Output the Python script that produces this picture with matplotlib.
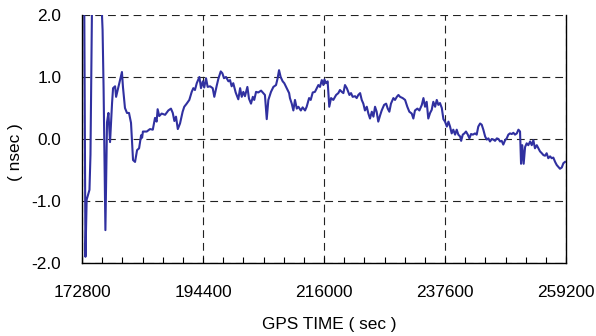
import numpy as np
import matplotlib
matplotlib.use("Agg")
import matplotlib.pyplot as plt
from matplotlib.ticker import MultipleLocator

plt.rcParams['font.family'] = ['Liberation Sans', 'DejaVu Sans']

# time since start of day (hours, day starts at GPS sec 172800) and clock offset (nsec)
t_start = 172800
hours = [
    0.10, 0.17, 0.23, 0.37, 0.42, 0.50, 0.74, 1.02, 1.07, 1.16,
    1.24, 1.31, 1.39, 1.49, 1.54, 1.64, 1.69, 1.79, 1.88, 1.98,
    2.03, 2.13, 2.23, 2.33, 2.43, 2.53, 2.63, 2.73, 2.83, 2.93,
    2.98, 3.02, 3.21, 3.37, 3.51, 3.62, 3.70, 3.75, 3.83, 3.95,
    4.12, 4.28, 4.41, 4.50, 4.58, 4.66, 4.75, 4.86, 4.99, 5.07,
    5.19, 5.32, 5.44, 5.52, 5.60, 5.69, 5.82, 5.90, 5.99, 6.06,
    6.15, 6.23, 6.35, 6.48, 6.56, 6.68, 6.76, 6.88, 6.96, 7.04,
    7.14, 7.26, 7.34, 7.42, 7.50, 7.62, 7.75, 7.84, 7.92, 8.00,
    8.08, 8.20, 8.28, 8.38, 8.47, 8.54, 8.63, 8.74, 8.88, 8.99,
    9.07, 9.16, 9.24, 9.37, 9.49, 9.62, 9.70, 9.77, 9.85, 9.95,
    10.03, 10.15, 10.27, 10.31, 10.40, 10.48, 10.56, 10.65, 10.73, 10.85,
    10.94, 11.06, 11.14, 11.26, 11.34, 11.44, 11.55, 11.64, 11.72, 11.80,
    11.89, 11.97, 12.02, 12.10, 12.18, 12.26, 12.35, 12.46, 12.60, 12.71,
    12.79, 12.88, 12.96, 13.04, 13.13, 13.26, 13.34, 13.42, 13.54, 13.62,
    13.70, 13.79, 13.87, 13.95, 14.03, 14.12, 14.20, 14.28, 14.37, 14.45,
    14.53, 14.61, 14.69, 14.78, 14.86, 14.98, 15.08, 15.16, 15.24, 15.32,
    15.44, 15.52, 15.61, 15.69, 15.77, 15.90, 16.02, 16.13, 16.23, 16.35,
    16.43, 16.51, 16.63, 16.73, 16.85, 16.93, 17.01, 17.09, 17.17, 17.26,
    17.34, 17.42, 17.51, 17.59, 17.67, 17.75, 17.84, 17.92, 18.00, 18.09,
    18.17, 18.25, 18.33, 18.41, 18.50, 18.58, 18.66, 18.75, 18.80, 18.88,
    18.96, 19.04, 19.13, 19.21, 19.29, 19.38, 19.49, 19.57, 19.65, 19.74,
    19.82, 19.90, 19.99, 20.07, 20.15, 20.23, 20.32, 20.40, 20.48, 20.57,
    20.65, 20.73, 20.81, 20.89, 20.98, 21.06, 21.14, 21.22, 21.31, 21.39,
    21.47, 21.56, 21.64, 21.72, 21.77, 21.83, 21.90, 21.97, 22.05, 22.13,
    22.22, 22.30, 22.38, 22.46, 22.55, 22.63, 22.71, 22.80, 22.88, 22.96,
    23.04, 23.12, 23.21, 23.29, 23.37, 23.46, 23.54, 23.62, 23.70, 23.79,
    23.87, 23.95,
]
offset_ns = [
    3.00, -1.90, -0.98, -0.82, -0.25, 2.30, 4.00, 1.76, 0.82, -1.47,
    0.27, 0.42, -0.05, 0.58, 0.82, 0.85, 0.68, 0.82, 0.95, 1.08,
    0.84, 0.50, 0.42, 0.42, 0.26, -0.34, -0.37, -0.18, -0.15, 0.06,
    0.02, 0.12, 0.12, 0.16, 0.15, 0.34, 0.28, 0.48, 0.37, 0.41,
    0.39, 0.46, 0.49, 0.42, 0.29, 0.36, 0.16, 0.25, 0.44, 0.52,
    0.57, 0.63, 0.76, 0.82, 0.79, 0.90, 1.00, 0.82, 0.93, 0.83,
    0.98, 0.84, 0.85, 0.82, 0.68, 0.86, 0.97, 1.09, 1.06, 0.98,
    1.00, 0.93, 0.95, 0.85, 0.90, 0.75, 0.64, 0.82, 0.68, 0.76,
    0.69, 0.84, 0.65, 0.57, 0.68, 0.63, 0.76, 0.75, 0.78, 0.74,
    0.71, 0.32, 0.63, 0.76, 0.84, 0.87, 0.98, 1.11, 1.00, 0.93,
    0.90, 0.82, 0.74, 0.66, 0.57, 0.46, 0.63, 0.49, 0.52, 0.46,
    0.51, 0.46, 0.52, 0.66, 0.63, 0.75, 0.76, 0.82, 0.87, 0.84,
    0.95, 0.87, 0.96, 0.90, 0.93, 0.52, 0.66, 0.63, 0.71, 0.74,
    0.79, 0.76, 0.74, 0.87, 0.82, 0.71, 0.74, 0.68, 0.69, 0.66,
    0.71, 0.74, 0.63, 0.57, 0.46, 0.52, 0.41, 0.33, 0.44, 0.36,
    0.52, 0.44, 0.28, 0.38, 0.46, 0.55, 0.57, 0.49, 0.44, 0.57,
    0.66, 0.63, 0.68, 0.71, 0.68, 0.66, 0.63, 0.52, 0.44, 0.41,
    0.33, 0.46, 0.49, 0.46, 0.55, 0.66, 0.52, 0.60, 0.33, 0.42,
    0.47, 0.60, 0.52, 0.63, 0.55, 0.58, 0.50, 0.32, 0.28, 0.20,
    0.28, 0.20, 0.09, 0.15, 0.07, 0.15, 0.07, 0.04, -0.03, 0.07,
    0.09, 0.12, 0.07, 0.01, 0.08, 0.07, 0.09, 0.07, 0.20, 0.25,
    0.23, 0.15, 0.04, -0.01, 0.01, -0.04, 0.00, -0.01, -0.03, 0.01,
    0.00, -0.04, -0.03, -0.09, -0.02, 0.01, 0.07, 0.09, 0.08, 0.10,
    0.07, 0.09, 0.15, 0.12, -0.40, -0.10, -0.40, -0.13, -0.07, -0.10,
    -0.04, -0.10, -0.02, -0.15, -0.10, -0.15, -0.20, -0.23, -0.26, -0.27,
    -0.23, -0.31, -0.28, -0.31, -0.30, -0.37, -0.42, -0.45, -0.48, -0.46,
    -0.39, -0.37,
]

x_ticks = [172800, 194400, 216000, 237600, 259200]
y_ticks = [-2.0, -1.0, 0.0, 1.0, 2.0]
y_labels = ["-2.0", "-1.0", "0.0", "1.0", "2.0"]

gps_time = t_start + np.array(hours) * 3600

fig = plt.figure(figsize=(5.96, 3.36), dpi=100)
ax = fig.add_axes([0.1376, 0.2173, 0.8121, 0.7381])

ax.plot(gps_time, offset_ns, color="#3030a0", lw=1.5)

ax.set_xlim(172800, 259200)
ax.set_ylim(-2.0, 2.0)
ax.set_xticks(x_ticks)
ax.set_xticklabels([str(v) for v in x_ticks])
ax.xaxis.set_minor_locator(MultipleLocator(3600))
ax.set_yticks(y_ticks)
ax.set_yticklabels(y_labels)

ax.grid(True, which="major", color="#222222", ls=(0, (7, 4.5)), lw=0.8)
ax.spines["top"].set_visible(False)
for side in ["left", "bottom", "right"]:
    ax.spines[side].set_linewidth(1.0)

ax.tick_params(axis="x", which="both", direction="in", length=4, width=0.8,
               labelsize=12.4, pad=16)
ax.tick_params(axis="y", length=0, labelsize=12.4, pad=15)

ax.set_xlabel("GPS TIME ( sec )", fontsize=12.4)
ax.xaxis.set_label_coords(0.51, -0.25)
ax.xaxis.label.set_va("center")
ax.set_ylabel("( nsec )", fontsize=12.4)
ax.yaxis.set_label_coords(-0.138, 0.448)
ax.yaxis.label.set_va("center")

fig.savefig("out.png", dpi=100)
